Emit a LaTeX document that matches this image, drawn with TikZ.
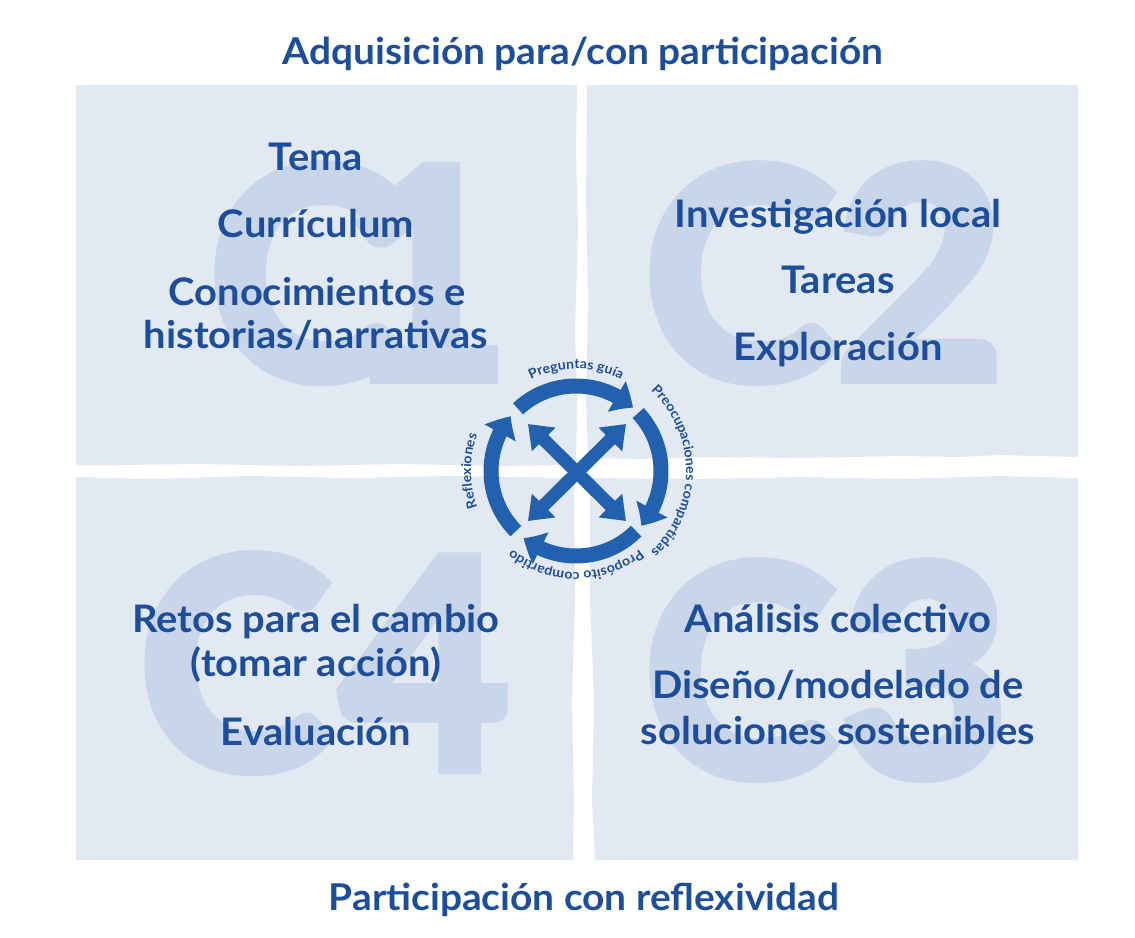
\documentclass[tikz,border=0pt]{standalone}
\usepackage{fontspec}
\setmainfont{Lato}[FakeStretch=1.05]
\newfontfamily\bigfont{Lato}[FakeBold=4]
\usetikzlibrary{arrows.meta,bending,decorations.text}
\definecolor{tblue}{HTML}{1D4E9B}
\definecolor{ablue}{HTML}{2261AD}
\definecolor{panelc}{HTML}{E3E9F3}
\definecolor{bigcc}{HTML}{C9D5E8}
\tikzset{
  panelbox/.style={fill=panelc, draw=none},
  bigletter/.style={text=bigcc, font=\bigfont\fontsize{290}{290}\selectfont\bfseries, inner sep=0pt, anchor=base},
  item/.style={text=tblue, font=\fontsize{38}{38}\selectfont\bfseries, inner sep=0pt, anchor=base},
  titletext/.style={text=tblue, font=\fontsize{37}{37}\selectfont\bfseries, inner sep=0pt, anchor=base},
  ringarc/.style={draw=ablue, line width=15pt, -{Triangle[width=34pt,length=20pt,bend]}},
  xarrow/.style={draw=ablue, line width=13pt, {Triangle[width=32pt,length=22pt]}-{Triangle[width=32pt,length=22pt]}},
  arctext/.style={decorate, decoration={text along path, text align=center, text={|\fontsize{13.5}{13.5}\selectfont\bfseries\color{tblue}|#1}}}
}
\begin{document}
\begin{tikzpicture}[x=1pt,y=1pt]
\useasboundingbox (0,0) rectangle (1135,-937);
% panels
\fill[panelbox] (76,-85) -- (577,-85) -- (576,-150) -- (578,-230) -- (575,-330) -- (577,-400) -- (576,-465) -- (500,-466) -- (400,-464) -- (300,-466) -- (200,-464) -- (120,-465) -- (76,-465) -- cycle;
\fill[panelbox] (587,-85) -- (1078,-85) -- (1078,-457) -- (1000,-455) -- (960,-457) -- (900,-456) -- (800,-458) -- (700,-457) -- (640,-459) -- (588,-458) -- (586,-400) -- (588,-300) -- (586,-200) -- cycle;
\fill[panelbox] (76,-477) -- (150,-479) -- (250,-476) -- (350,-478) -- (450,-476) -- (574,-478) -- (575,-600) -- (572,-700) -- (574,-800) -- (573,-860) -- (76,-860) -- cycle;
\fill[panelbox] (590,-478) -- (700,-479) -- (800,-477) -- (900,-479) -- (1000,-476) -- (1078,-478) -- (1078,-860) -- (595,-860) -- (592,-800) -- (594,-700) -- (590,-600) -- cycle;
% big letters
\node[bigletter] (c1a) at (305,-378) {C};
\node[bigletter] (c1b) at (426,-378) {1};
\node[bigletter] (c2a) at (740,-378) {C};
\node[bigletter] (c2b) at (920,-378) {2};
\node[bigletter] (c4a) at (235,-768) {C};
\node[bigletter] (c4b) at (425,-768) {4};
\node[bigletter] (c3a) at (740,-775) {C};
\node[bigletter] (c3b) at (925,-775) {3};
% titles
\node[titletext] (top) at (583,-64) {Adquisición para/con participación};
\node[titletext] (bottom) at (584,-910) {Participación con reflexividad};
% quadrant texts
\node[item] (t1) at (316,-170) {Tema};
\node[item] (t2) at (316,-237) {Currículum};
\node[item] (t3) at (317,-305) {Conocimientos e};
\node[item] (t4) at (316,-348) {historias/narrativas};
\node[item] (r1) at (838,-227) {Investigación local};
\node[item] (r2) at (838,-293) {Tareas};
\node[item] (r3) at (838,-360) {Exploración};
\node[item] (b1) at (316,-632) {Retos para el cambio};
\node[item] (b2) at (316,-676) {(tomar acción)};
\node[item] (b3) at (316,-745) {Evaluación};
\node[item] (d1) at (838,-632) {Análisis colectivo};
\node[item] (d2) at (838,-698) {Diseño/modelado de};
\node[item] (d3) at (838,-744) {soluciones sostenibles};
% center cycle
\coordinate (c) at (576,-471);
\draw[ringarc] ([shift={(133:85)}]c) arc[start angle=133,end angle=48,radius=85];
\draw[ringarc] ([shift={(43:85)}]c) arc[start angle=43,end angle=-40,radius=85];
\draw[ringarc] ([shift={(-45:85)}]c) arc[start angle=-45,end angle=-128,radius=85];
\draw[ringarc] ([shift={(-135:85)}]c) arc[start angle=-135,end angle=-220,radius=85];
\coordinate (xnw) at ([shift={(-48,47)}]c);
\coordinate (xse) at ([shift={(50,-50)}]c);
\coordinate (xne) at ([shift={(50,47)}]c);
\coordinate (xsw) at ([shift={(-48,-50)}]c);
\draw[xarrow] (xnw) -- (xse);
\draw[xarrow] (xne) -- (xsw);
% curved labels
\path[arctext={Preguntas guía}] ([shift={(150:102)}]c) arc[start angle=150,end angle=30,radius=102];
\path[arctext={Preocupaciones compartidas}] ([shift={(80:110)}]c) arc[start angle=80,end angle=-80,radius=110];
\path[arctext={Propósito compartido}] ([shift={(-10:101)}]c) arc[start angle=-10,end angle=-170,radius=101];
\path[arctext={Reflexiones}] ([shift={(-120:105)}]c) arc[start angle=-120,end angle=-240,radius=105];
\end{tikzpicture}
\end{document}
